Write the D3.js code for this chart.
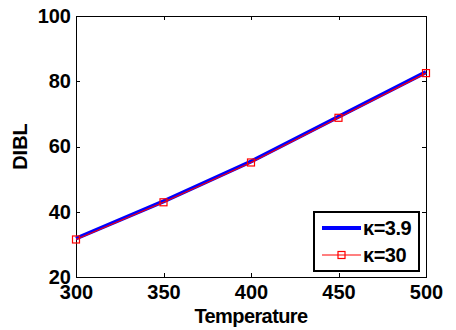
<!DOCTYPE html>
<html>
<head>
<meta charset="utf-8">
<script src="https://cdn.jsdelivr.net/npm/d3@7"></script>
<style>
  body { margin: 0; background: #fff; }
  text { font-family: "Liberation Sans", Arial, sans-serif; font-weight: bold; }
</style>
</head>
<body>
<div class="chart"></div>
<script>
var svgWidth = 456;
var svgHeight = 330;

var margin = { top: 16, right: 30, bottom: 53, left: 76 };
var width = svgWidth - margin.left - margin.right;
var height = svgHeight - margin.top - margin.bottom;

// data
var temperature = [300, 350, 400, 450, 500];
var dibl_k39 = [31.8, 43.2, 55.4, 69.1, 82.8];
var dibl_k30 = [31.5, 42.9, 55.1, 68.8, 82.5];
var xTicks = [300, 350, 400, 450, 500];
var yTicks = [20, 40, 60, 80, 100];
var seriesNames = ["\u03ba=3.9", "\u03ba=30"];

var svg = d3.select(".chart")
  .append("svg")
  .attr("width", svgWidth)
  .attr("height", svgHeight);

var chartGroup = svg.append("g")
  .attr("transform", `translate(${margin.left}, ${margin.top})`);

var xScale = d3.scaleLinear().domain([300, 500]).range([0, width]);
var yScale = d3.scaleLinear().domain([20, 100]).range([height, 0]);

// box
chartGroup.append("rect")
  .attr("x", 0).attr("y", 0)
  .attr("width", width).attr("height", height)
  .attr("fill", "none").attr("stroke", "#000").attr("stroke-width", 1)
  .attr("shape-rendering", "crispEdges");

// axes with inward ticks
function styleAxis(g) {
  g.select(".domain").remove();
  g.selectAll("line").attr("stroke", "#000").attr("shape-rendering", "crispEdges");
  g.selectAll("text").attr("font-size", 20).attr("fill", "#000");
}

chartGroup.append("g")
  .attr("transform", `translate(0, ${height})`)
  .call(d3.axisBottom(xScale).tickValues(xTicks).tickSizeInner(-4).tickSizeOuter(0).tickPadding(8))
  .call(styleAxis);

chartGroup.append("g")
  .call(d3.axisTop(xScale).tickValues(xTicks).tickSizeInner(-4).tickSizeOuter(0).tickFormat(""))
  .call(styleAxis);

chartGroup.append("g")
  .call(d3.axisLeft(yScale).tickValues(yTicks).tickSizeInner(-4).tickSizeOuter(0).tickPadding(5))
  .call(styleAxis);

chartGroup.append("g")
  .attr("transform", `translate(${width}, 0)`)
  .call(d3.axisRight(yScale).tickValues(yTicks).tickSizeInner(-4).tickSizeOuter(0).tickFormat(""))
  .call(styleAxis);

// lines
var line = d3.line()
  .x((d, i) => xScale(temperature[i]))
  .y(d => yScale(d));

chartGroup.append("path")
  .datum(dibl_k39)
  .attr("d", line)
  .attr("fill", "none")
  .attr("stroke", "#0000ff")
  .attr("stroke-width", 4);

chartGroup.append("path")
  .datum(dibl_k30)
  .attr("d", line)
  .attr("fill", "none")
  .attr("stroke", "#ff0000")
  .attr("stroke-width", 1.2);

chartGroup.selectAll(".marker")
  .data(dibl_k30)
  .enter()
  .append("rect")
  .attr("class", "marker")
  .attr("x", (d, i) => xScale(temperature[i]) - 3.5)
  .attr("y", d => yScale(d) - 3.5)
  .attr("width", 7)
  .attr("height", 7)
  .attr("fill", "none")
  .attr("stroke", "#ff0000")
  .attr("stroke-width", 1.2);

// axis labels
chartGroup.append("text")
  .attr("x", width / 2)
  .attr("y", height + 46)
  .attr("text-anchor", "middle")
  .attr("font-size", 20)
  .attr("letter-spacing", -0.6)
  .text("Temperature");

chartGroup.append("text")
  .attr("transform", "rotate(-90)")
  .attr("x", -height / 2)
  .attr("y", -49)
  .attr("text-anchor", "middle")
  .attr("font-size", 20)
  .text("DIBL");

// legend
var legend = svg.append("g").attr("transform", "translate(314, 212)");
legend.append("rect")
  .attr("width", 105).attr("height", 59)
  .attr("fill", "#fff").attr("stroke", "#000").attr("stroke-width", 1.2)
  .attr("shape-rendering", "crispEdges");

legend.append("line")
  .attr("x1", 8).attr("x2", 47).attr("y1", 16).attr("y2", 16)
  .attr("stroke", "#0000ff").attr("stroke-width", 4);
legend.append("line")
  .attr("x1", 8).attr("x2", 47).attr("y1", 43).attr("y2", 43)
  .attr("stroke", "#ff0000").attr("stroke-width", 1.2);
legend.append("rect")
  .attr("x", 24).attr("y", 39.5).attr("width", 7).attr("height", 7)
  .attr("fill", "none").attr("stroke", "#ff0000").attr("stroke-width", 1.2);

legend.selectAll(".legtext")
  .data(seriesNames)
  .enter()
  .append("text")
  .attr("class", "legtext")
  .attr("x", 49)
  .attr("y", (d, i) => 23 + i * 27)
  .attr("font-size", 20)
  .attr("letter-spacing", -0.5)
  .text(d => d);
</script>
</body>
</html>
